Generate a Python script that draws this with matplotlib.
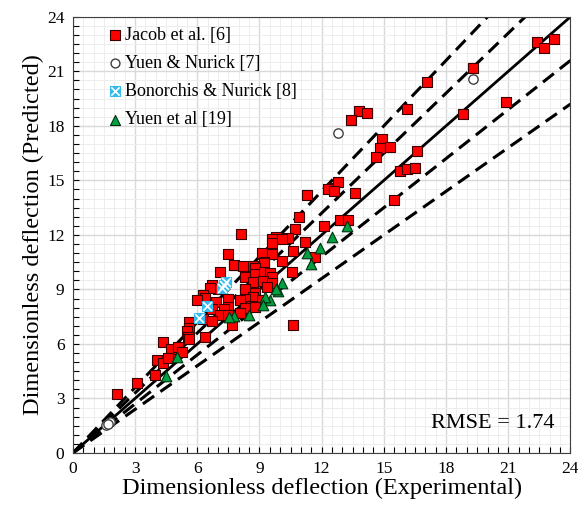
import matplotlib
matplotlib.use("Agg")
import matplotlib.pyplot as plt
from matplotlib.legend_handler import HandlerTuple
import numpy as np

plt.rcParams['font.family'] = ['Liberation Serif', 'DejaVu Serif']

# Jacob et al. [6]
jacob_x = [23.2, 22.4, 22.7, 19.3, 20.9, 18.8, 17.1, 16.1, 13.8, 14.2, 13.4, 14.9, 14.8, 15.3,
           14.6, 16.6, 15.8, 16.1, 16.5, 13.6, 15.5, 12.5, 12.8, 12.3, 12.6, 11.3, 10.9, 10.7,
           12.1, 12.9, 13.25, 8.1, 9.8, 10.4, 9.6, 10.1, 11.2, 9.1, 9.6, 10.6, 11.7, 9.2, 10.1,
           8.7, 7.5, 7.75, 8.2, 9.6, 9.2, 8.8, 8.3, 8.8, 9.2, 9.5, 10.55, 9.6, 8.7, 9.15, 9.6,
           9.35, 8.3, 8.8, 8.7, 8.3, 7.5, 8.05, 8.6, 9.1, 8.3, 8.8, 6.7, 7.0, 7.1, 6.6, 6.3,
           6.35, 6.0, 6.9, 7.5, 6.7, 7.3, 7.1, 7.5, 8.05, 7.7, 6.3, 6.7, 5.6, 5.6, 5.5, 5.55,
           6.35, 5.6, 10.6, 4.35, 4.9, 4.75, 5.05, 5.25, 4.05, 4.35, 4.6, 3.95, 3.1, 2.15]
jacob_y = [22.8, 22.6, 22.3, 21.2, 19.3, 18.65, 20.4, 18.9, 18.8, 18.7, 18.3, 17.3, 16.8, 16.85,
           16.3, 16.6, 15.5, 15.6, 15.7, 14.3, 13.9, 14.6, 14.9, 14.5, 14.4, 14.2, 13.0, 12.3,
           12.5, 12.8, 12.8, 12.05, 11.9, 11.85, 11.8, 11.8, 11.6, 11.0, 10.95, 11.1, 10.8, 10.5, 10.55,
           10.3, 10.95, 10.35, 10.3, 11.55, 10.45, 10.2, 9.7, 9.85, 9.95, 9.9, 9.95, 9.7, 9.4, 9.45, 9.35,
           9.15, 9.0, 8.8, 8.6, 8.5, 8.5, 8.4, 8.1, 8.4, 8.0, 8.05, 9.25, 9.0, 9.95, 9.1, 8.7,
           8.55, 8.4, 8.3, 8.05, 7.9, 7.9, 7.6, 7.6, 7.7, 7.05, 7.4, 7.25, 7.2, 6.9, 6.7, 6.4,
           6.4, 6.25, 7.05, 6.1, 5.5, 5.7, 5.85, 5.55, 5.1, 4.95, 5.2, 4.3, 3.85, 3.25]

# Yuen & Nurick [7]
yn_x = [19.3, 12.8, 1.6, 1.8, 1.7]
yn_y = [20.6, 17.6, 1.55, 1.7, 1.6]

# Bonorchis & Nurick [8]
bn_x = [7.4, 7.2, 7.3, 6.45, 6.1]
bn_y = [9.4, 9.1, 9.25, 8.1, 7.45]

# Yuen et al [19]
ye_x = [13.2, 12.5, 11.9, 11.3, 11.5, 10.1, 9.9, 9.5, 9.25, 9.15, 8.5, 7.75, 7.55, 5.0, 4.5, 9.8]
ye_y = [12.5, 11.9, 11.3, 11.0, 10.4, 9.35, 8.9, 8.4, 8.6, 8.15, 7.6, 7.55, 7.5, 5.3, 4.25, 9.0]

ratios = [1.2, 1.1, 0.9, 0.8]

fig = plt.figure(figsize=(5.78, 5.09), dpi=100)
ax = fig.add_axes([0.126, 0.110, 0.861, 0.857])

ax.set_xlim(0, 24)
ax.set_ylim(0, 24)
ax.set_xticks(np.arange(0, 25, 3))
ax.set_yticks(np.arange(0, 25, 3))
ax.set_xticks(np.arange(0, 24.1, 0.5), minor=True)
ax.set_yticks(np.arange(0, 24.1, 0.5), minor=True)
ax.grid(which='major', color='#d9d9d9', lw=1.0, zorder=0)
ax.grid(which='minor', color='#ededed', lw=0.7, zorder=0)
ax.set_axisbelow(True)
ax.tick_params(which='both', direction='in', length=4, width=0.8, labelsize=12.5,
               top=False, right=False, pad=6)
for s in ax.spines.values():
    s.set_color('#404040')

xx = np.array([0, 24])
ax.plot(xx, xx, color='black', lw=2, zorder=2)
for r in ratios:
    ax.plot(xx, r * xx, color='black', lw=2.2, ls=(0, (4.5, 2.5)), zorder=2)

h1 = ax.scatter(jacob_x, jacob_y, marker='s', s=58, facecolor='#ff0000', edgecolor='#3a0000',
                lw=0.8, zorder=3)
h2 = ax.scatter(yn_x, yn_y, marker='o', s=45, facecolor='white', edgecolor='#404040',
                lw=1.0, zorder=3)
h3a = ax.scatter(bn_x, bn_y, marker='s', s=58, facecolor='#33bbee', edgecolor='#33bbee',
                 lw=0.8, zorder=4)
h3b = ax.scatter(bn_x, bn_y, marker='x', s=40, color='white', lw=1.2, zorder=5)
h4 = ax.scatter(ye_x, ye_y, marker='^', s=58, facecolor='#00a040', edgecolor='#003010',
                lw=0.8, zorder=4)

ax.legend([h1, h2, (h3a, h3b), h4],
          ['Jacob et al. [6]', 'Yuen & Nurick [7]', 'Bonorchis & Nurick [8]', 'Yuen et al [19]'],
          handler_map={tuple: HandlerTuple(ndivide=1, pad=0)},
          loc='upper left', frameon=False, fontsize=13, handletextpad=-0.2,
          labelspacing=0.62, borderaxespad=0.15, bbox_to_anchor=(0.035, 1.0),
          markerscale=0.95, handlelength=1.6)

ax.text(0.968, 0.045, 'RMSE = 1.74', transform=ax.transAxes, ha='right', va='bottom',
        fontsize=16)

ax.set_xlabel('Dimensionless deflection (Experimental)', fontsize=17.5, labelpad=0)
ax.set_ylabel('Dimensionless deflection (Predicted)', fontsize=17.5, labelpad=2)

fig.savefig('out.png', dpi=100)
